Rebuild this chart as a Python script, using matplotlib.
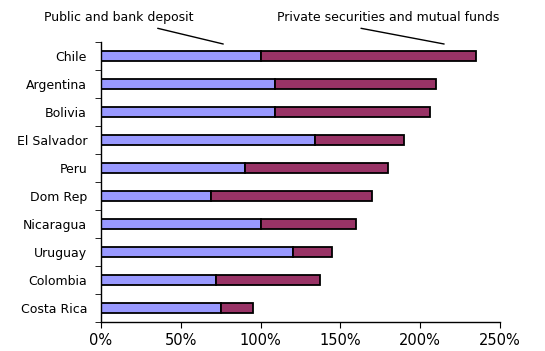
import matplotlib
matplotlib.use("Agg")
import matplotlib.pyplot as plt
from matplotlib.ticker import FixedLocator

countries = ["Chile", "Argentina", "Bolivia", "El Salvador", "Peru", "Dom Rep",
             "Nicaragua", "Uruguay", "Colombia", "Costa Rica"]
public_bank = [100, 109, 109, 134, 90, 69, 100, 120, 72, 75]
private_sec = [135, 101, 97, 56, 90, 101, 60, 25, 65, 20]
xticks = [0, 50, 100, 150, 200, 250]
xtick_labels = ["0%", "50%", "100%", "150%", "200%", "250%"]
series_labels = ["Public and bank deposit", "Private securities and mutual funds"]

plt.rcParams['font.family'] = ['DejaVu Sans']

fig = plt.figure(figsize=(5.45, 3.51), dpi=100)
ax = fig.add_axes([0.1853, 0.0835, 0.9174 - 0.1853, 0.881 - 0.0835])

y = list(range(len(countries)))
ax.barh(y, public_bank, height=0.36, color="#9999FF", edgecolor="black", linewidth=1.3)
ax.barh(y, private_sec, left=public_bank, height=0.36, color="#993366",
        edgecolor="black", linewidth=1.3)

ax.set_xlim(0, 250)
ax.set_ylim(len(countries) - 0.5, -0.5)
ax.set_xticks(xticks)
ax.set_xticklabels(xtick_labels, fontsize=10.5)
ax.set_yticks(y)
ax.set_yticklabels(countries, fontsize=9)
ax.yaxis.set_minor_locator(FixedLocator([i - 0.5 for i in range(len(countries) + 1)]))
ax.tick_params(axis='y', which='major', length=0, pad=10)
ax.tick_params(axis='y', which='minor', length=4, direction='out', color='black')
ax.tick_params(axis='x', length=4, direction='out', pad=4)

for s in ['top', 'right']:
    ax.spines[s].set_visible(False)
for s in ['left', 'bottom']:
    ax.spines[s].set_color('black')
    ax.spines[s].set_linewidth(1.0)

fig.text(0.218, 0.949, series_labels[0], ha='center', va='center', fontsize=9)
fig.text(0.712, 0.949, series_labels[1], ha='center', va='center', fontsize=9)

ax.annotate('', xy=(76.6, -0.42), xycoords='data',
            xytext=(157.7 / 545, 1 - 28.3 / 351), textcoords='figure fraction',
            arrowprops=dict(arrowstyle='-', color='black', lw=1.0, shrinkA=0, shrinkB=0))
ax.annotate('', xy=(215, -0.42), xycoords='data',
            xytext=(361 / 545, 1 - 28.3 / 351), textcoords='figure fraction',
            arrowprops=dict(arrowstyle='-', color='black', lw=1.0, shrinkA=0, shrinkB=0))

fig.savefig("out.png", dpi=100)
